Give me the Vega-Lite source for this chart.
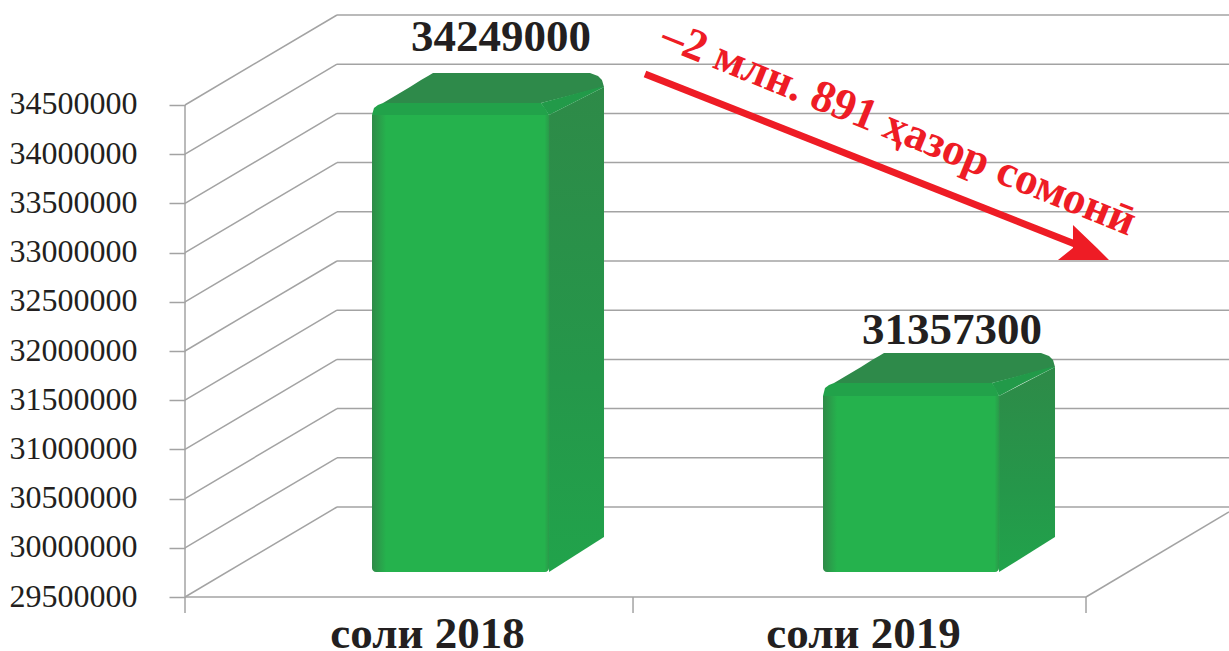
{"$schema":"https://vega.github.io/schema/vega-lite/v6.json","width":1044,"height":597,"autosize":"none","padding":{"left":185,"top":0,"right":0,"bottom":54},"background":"white","config":{"view":{"stroke":null}},
"datasets":{
"grid":[{"pos":0,"val":34500000,"pos2":0.3374,"val2":35414634},{"pos":0,"val":34000000,"pos2":0.3374,"val2":34914634},{"pos":0,"val":33500000,"pos2":0.3374,"val2":34414634},{"pos":0,"val":33000000,"pos2":0.3374,"val2":33914634},{"pos":0,"val":32500000,"pos2":0.3374,"val2":33414634},{"pos":0,"val":32000000,"pos2":0.3374,"val2":32914634},{"pos":0,"val":31500000,"pos2":0.3374,"val2":32414634},{"pos":0,"val":31000000,"pos2":0.3374,"val2":31914634},{"pos":0,"val":30500000,"pos2":0.3374,"val2":31414634},{"pos":0,"val":30000000,"pos2":0.3374,"val2":30914634},{"pos":0,"val":29500000,"pos2":0.3374,"val2":30414634},
{"pos":0.3374,"val":35414634,"pos2":2.3174,"val2":35414634},{"pos":0.3374,"val":34914634,"pos2":2.3174,"val2":34914634},{"pos":0.3374,"val":34414634,"pos2":2.3174,"val2":34414634},{"pos":0.3374,"val":33914634,"pos2":2.3174,"val2":33914634},{"pos":0.3374,"val":33414634,"pos2":2.3174,"val2":33414634},{"pos":0.3374,"val":32914634,"pos2":2.3174,"val2":32914634},{"pos":0.3374,"val":32414634,"pos2":2.3174,"val2":32414634},{"pos":0.3374,"val":31914634,"pos2":2.3174,"val2":31914634},{"pos":0.3374,"val":31414634,"pos2":2.3174,"val2":31414634},{"pos":0.3374,"val":30914634,"pos2":2.3174,"val2":30914634},{"pos":0.3374,"val":30414634,"pos2":2.3174,"val2":30414634},
{"pos":2,"val":29500000,"pos2":2.3174,"val2":30364634},
{"pos":0,"val":29500000,"pos2":2,"val2":29500000},
{"pos":0,"val":34500000,"pos2":0,"val2":29337398},
{"pos":0.9945,"val":29500000,"pos2":0.9945,"val2":29337398},
{"pos":2,"val":29500000,"pos2":2,"val2":29337398}],
"side":[{"bar":"2018","pos":0.808,"val":34398373,"val2":29754065},{"bar":"2018","pos":0.9301,"val":34682926,"val2":30109756},{"bar":"2019","pos":1.8069,"val":31542683,"val2":29754065},{"bar":"2019","pos":1.9312,"val":31837398,"val2":30109756}],
"top":[{"bar":"2018","val":34825202,"pos":0.5505,"pos2":0.899},{"bar":"2018","val":34794715,"pos":0.5394,"pos2":0.9168},{"bar":"2018","val":34754064,"pos":0.5239,"pos2":0.9256},{"bar":"2018","val":34682926,"pos":0.4994,"pos2":0.9301},{"bar":"2018","val":34520324,"pos":0.4395,"pos2":0.7902},
{"bar":"2019","val":31979674,"pos":1.5516,"pos2":1.9001},{"bar":"2019","val":31949187,"pos":1.5405,"pos2":1.9179},{"bar":"2019","val":31908536,"pos":1.525,"pos2":1.9268},{"bar":"2019","val":31837398,"pos":1.5006,"pos2":1.9312},{"bar":"2019","val":31674797,"pos":1.4406,"pos2":1.7913}],
"bevel":[{"bar":"2018","val":34682926,"pos":0.9212,"pos2":0.9301},{"bar":"2018","val":34520324,"pos":0.7902,"pos2":0.8605},{"bar":"2018","val":34398373,"pos":0.808,"pos2":0.808},
{"bar":"2019","val":31837398,"pos":1.9223,"pos2":1.9312},{"bar":"2019","val":31674797,"pos":1.7913,"pos2":1.8606},{"bar":"2019","val":31542683,"pos":1.8069,"pos2":1.8069}],
"band":[{"bar":"2018","val":34520324,"pos":0.4395,"pos2":0.7902},{"bar":"2018","val":34499999,"pos":0.4284,"pos2":0.7935},{"bar":"2018","val":34469511,"pos":0.4195,"pos2":0.7991},{"bar":"2018","val":34398373,"pos":0.4151,"pos2":0.808},
{"bar":"2019","val":31674797,"pos":1.4406,"pos2":1.7913},{"bar":"2019","val":31654472,"pos":1.4295,"pos2":1.7946},{"bar":"2019","val":31623984,"pos":1.4206,"pos2":1.7991},{"bar":"2019","val":31542683,"pos":1.4162,"pos2":1.8069}],
"front":[{"bar":"2018","pos":0.4151,"pos2":0.808,"val":34398373,"val2":29754065},{"bar":"2019","pos":1.4162,"pos2":1.8069,"val":31542683,"val2":29754065}],
"arrow":[{"pos":1.0211,"val":34815040,"pos2":1.9867,"val2":33067073}],
"head":[{"val":33280487,"pos":1.9711,"pos2":1.9711},{"val":33046747,"pos":1.9711,"pos2":2.0244},{"val":32924796,"pos":1.9378,"pos2":2.051}],
"labels":[{"amount":"34249000","pos":0.7014,"val":35191056},{"amount":"31357300","pos":1.7026,"val":32213414}],
"note":[{"note":"–2 млн. 891 ҳазор сомонӣ","pos":1.5849,"val":34266259}]
},
"layer":[
{"data":{"name":"grid"},"mark":{"type":"rule","color":"#a3a3a3","strokeWidth":1.5},"encoding":{
"x":{"field":"pos","type":"quantitative","scale":{"domain":[0,2.3174],"nice":false,"zero":false},"axis":{"title":null,"values":[0.5372,1.505],"labelExpr":"datum.value < 1 ? 'соли 2018' : 'соли 2019'","ticks":false,"domain":false,"grid":false,"labelFont":"Liberation Serif","labelFontWeight":"bold","labelFontSize":45,"labelColor":"#231f20","labelPadding":14,"labelLimit":400,"labelOverlap":false,"labelFlush":false}},
"y":{"field":"val","type":"quantitative","scale":{"domain":[29500000,35567073],"nice":false,"zero":false},"axis":{"title":null,"values":[29500000,30000000,30500000,31000000,31500000,32000000,32500000,33000000,33500000,34000000,34500000],"format":"d","domain":false,"grid":false,"tickSize":16,"tickColor":"#a3a3a3","tickWidth":1.5,"labelFont":"Liberation Serif","labelFontSize":32,"labelColor":"#231f20","labelPadding":32,"labelOffset":-1,"labelOverlap":false,"labelFlush":false}},
"x2":{"field":"pos2"},"y2":{"field":"val2"}}},
{"data":{"name":"side"},"mark":{"type":"area","orient":"vertical","fill":{"gradient":"linear","x1":0,"y1":0,"x2":0,"y2":1,"stops":[{"offset":0,"color":"#2e8a48"},{"offset":0.6,"color":"#25974a"},{"offset":1,"color":"#21a34b"}]}},"encoding":{"x":{"field":"pos","type":"quantitative","scale":{"domain":[0,2.3174],"nice":false,"zero":false}},"y":{"field":"val","type":"quantitative","scale":{"domain":[29500000,35567073],"nice":false,"zero":false}},"y2":{"field":"val2"},"detail":{"field":"bar"}}},
{"data":{"name":"top"},"mark":{"type":"area","orient":"horizontal","color":"#2e8a4a"},"encoding":{"x":{"field":"pos","type":"quantitative","scale":{"domain":[0,2.3174],"nice":false,"zero":false}},"x2":{"field":"pos2"},"y":{"field":"val","type":"quantitative","scale":{"domain":[29500000,35567073],"nice":false,"zero":false}},"detail":{"field":"bar"}}},
{"data":{"name":"bevel"},"mark":{"type":"area","orient":"horizontal","color":"#229a49"},"encoding":{"x":{"field":"pos","type":"quantitative","scale":{"domain":[0,2.3174],"nice":false,"zero":false}},"x2":{"field":"pos2"},"y":{"field":"val","type":"quantitative","scale":{"domain":[29500000,35567073],"nice":false,"zero":false}},"detail":{"field":"bar"}}},
{"data":{"name":"band"},"mark":{"type":"area","orient":"horizontal","color":"#22a24a"},"encoding":{"x":{"field":"pos","type":"quantitative","scale":{"domain":[0,2.3174],"nice":false,"zero":false}},"x2":{"field":"pos2"},"y":{"field":"val","type":"quantitative","scale":{"domain":[29500000,35567073],"nice":false,"zero":false}},"detail":{"field":"bar"}}},
{"data":{"name":"front"},"mark":{"type":"rect","cornerRadiusBottomLeft":4,"cornerRadiusBottomRight":4,"fill":{"gradient":"linear","x1":0,"y1":0,"x2":1,"y2":0,"stops":[{"offset":0,"color":"#2f8a48"},{"offset":0.08,"color":"#25b24d"},{"offset":0.975,"color":"#25b24d"},{"offset":1,"color":"#2a9a4a"}]}},"encoding":{"x":{"field":"pos","type":"quantitative","scale":{"domain":[0,2.3174],"nice":false,"zero":false}},"x2":{"field":"pos2"},"y":{"field":"val","type":"quantitative","scale":{"domain":[29500000,35567073],"nice":false,"zero":false}},"y2":{"field":"val2"}}},
{"data":{"name":"arrow"},"mark":{"type":"rule","color":"#ee1c25","strokeWidth":7},"encoding":{"x":{"field":"pos","type":"quantitative","scale":{"domain":[0,2.3174],"nice":false,"zero":false}},"x2":{"field":"pos2"},"y":{"field":"val","type":"quantitative","scale":{"domain":[29500000,35567073],"nice":false,"zero":false}},"y2":{"field":"val2"}}},
{"data":{"name":"head"},"mark":{"type":"area","orient":"horizontal","color":"#ee1c25"},"encoding":{"x":{"field":"pos","type":"quantitative","scale":{"domain":[0,2.3174],"nice":false,"zero":false}},"x2":{"field":"pos2"},"y":{"field":"val","type":"quantitative","scale":{"domain":[29500000,35567073],"nice":false,"zero":false}}}},
{"data":{"name":"labels"},"mark":{"type":"text","font":"Liberation Serif","fontWeight":"bold","fontSize":45,"color":"#231f20","baseline":"middle","align":"center"},"encoding":{"x":{"field":"pos","type":"quantitative","scale":{"domain":[0,2.3174],"nice":false,"zero":false}},"y":{"field":"val","type":"quantitative","scale":{"domain":[29500000,35567073],"nice":false,"zero":false}},"text":{"field":"amount"}}},
{"data":{"name":"note"},"mark":{"type":"text","font":"Liberation Serif","fontWeight":"bold","fontSize":45,"color":"#ee1c25","baseline":"middle","align":"center","angle":22},"encoding":{"x":{"field":"pos","type":"quantitative","scale":{"domain":[0,2.3174],"nice":false,"zero":false}},"y":{"field":"val","type":"quantitative","scale":{"domain":[29500000,35567073],"nice":false,"zero":false}},"text":{"field":"note"}}}
]}
